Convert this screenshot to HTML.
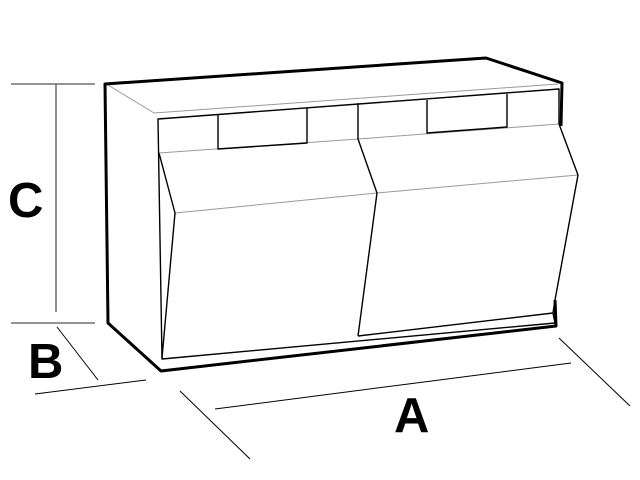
<!DOCTYPE html>
<html><head><style>html,body{margin:0;padding:0;background:#fff}svg{display:block}</style></head><body>
<svg width="640" height="480" viewBox="0 0 640 480" xmlns="http://www.w3.org/2000/svg">
<g fill="none" stroke-linejoin="round">
<g stroke="#555" stroke-width="1.3">
<line x1="11" y1="84" x2="95" y2="84"/>
<line x1="11" y1="323" x2="95" y2="323"/>
<line x1="56" y1="84" x2="56" y2="312"/>
</g>
<g stroke="#000" stroke-width="1">
<line x1="57" y1="327" x2="98" y2="380"/>
<line x1="35" y1="394" x2="146" y2="380"/>
<line x1="180" y1="391" x2="250" y2="459"/>
<line x1="215" y1="409" x2="571" y2="363"/>
<line x1="559" y1="338" x2="630" y2="406"/>
</g>
<g stroke="#999" stroke-width="1">
<polyline points="108,85 154,113 558,84"/>
<line x1="175" y1="213" x2="377" y2="193"/>
<line x1="377" y1="193" x2="578" y2="175"/>
<line x1="159" y1="153" x2="358" y2="139"/>
<line x1="358" y1="139" x2="559" y2="124"/>
</g>
<g stroke="#000" stroke-width="1.4">
<polyline points="559,124 559,89 158,119 162,359 555,323 553,313"/>
<line x1="358" y1="103" x2="358" y2="139"/>
<polyline points="218,115 218,149 307,143 307,108"/>
<polyline points="427,100 427,133 507,127 507,94"/>
<polyline points="159,153 175,213 162,358"/>
<polyline points="358,139 377,193 358,336"/>
<polyline points="559,124 578,175 555,300 553,313 358,336"/>
</g>
<polyline points="555,300 556,326 161,371 108,323 105,84 486,58 562,83 561,126" stroke="#000" stroke-width="3"/>
</g>
<g font-family="Liberation Sans, sans-serif" font-weight="bold" fill="#000" font-size="49">
<text x="8" y="217">C</text>
<text x="28" y="378">B</text>
<text x="394" y="432">A</text>
</g>
</svg>
</body></html>
